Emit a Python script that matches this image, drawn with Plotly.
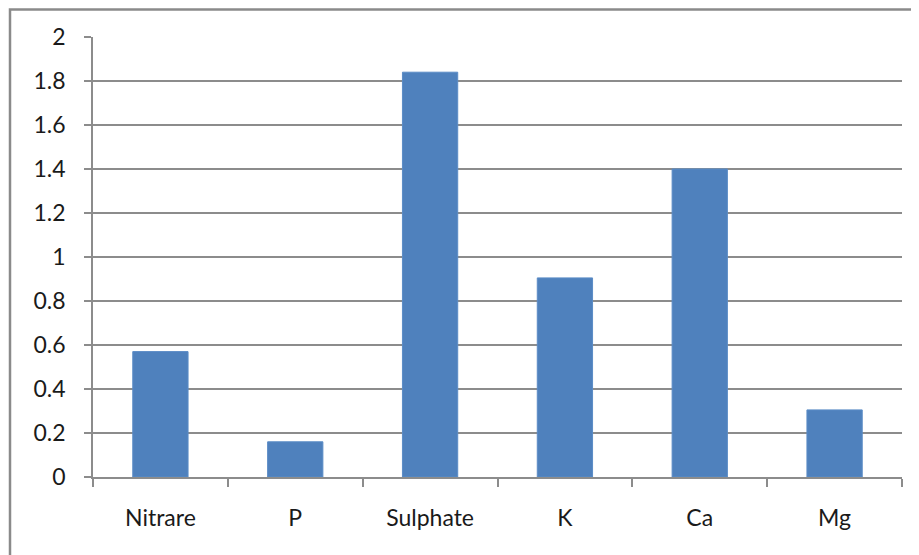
import plotly.graph_objects as go

categories = ["Nitrare", "P", "Sulphate", "K", "Ca", "Mg"]
values = [0.57, 0.16, 1.84, 0.905, 1.40, 0.305]
y_ticks = [0, 0.2, 0.4, 0.6, 0.8, 1, 1.2, 1.4, 1.6, 1.8, 2]
y_labels = ["0", "0.2", "0.4", "0.6", "0.8", "1", "1.2", "1.4", "1.6", "1.8", "2"]

# page has an 8px body margin; figure placed at (8, 8)
OFF = 8
W, H = 919 - OFF, 555 - OFF
L, R, T, B = 93 - OFF, 17, 37 - OFF, 78
pw, ph = W - L - R, H - T - B

fig = go.Figure(go.Bar(
    x=categories, y=values,
    marker=dict(color="#4F81BD", line=dict(color="#5B8CC6", width=1)),
))

grid = "#8C8C8C"
fig.update_layout(
    width=W, height=H,
    margin=dict(l=L, r=R, t=T, b=B, autoexpand=False),
    paper_bgcolor="white", plot_bgcolor="white",
    bargap=0.59,
    showlegend=False,
    font=dict(family="Lato", size=23, color="#1a1a1a"),
    shapes=[dict(type="rect", xref="paper", yref="paper",
                 x0=(2 - L) / pw, x1=1.2, y0=-0.5, y1=(H - B - 1.5) / ph,
                 line=dict(color="#8A8A8A", width=2.5), layer="below")],
)
fig.update_xaxes(
    type="category", showline=True, linecolor=grid, linewidth=1.5,
    ticks="outside", tickson="boundaries", ticklen=8, tickcolor=grid, tickwidth=1.5,
    showgrid=False, ticklabelstandoff=20, automargin=False,
)
fig.update_yaxes(
    range=[0, 2], tickvals=y_ticks, ticktext=y_labels,
    showline=True, linecolor=grid, linewidth=1.5,
    ticks="outside", ticklen=7, tickcolor=grid, tickwidth=1.5,
    showgrid=True, gridcolor=grid, gridwidth=1.5, zeroline=False,
    ticklabelstandoff=14, automargin=False,
)
fig.write_html("out.html")
